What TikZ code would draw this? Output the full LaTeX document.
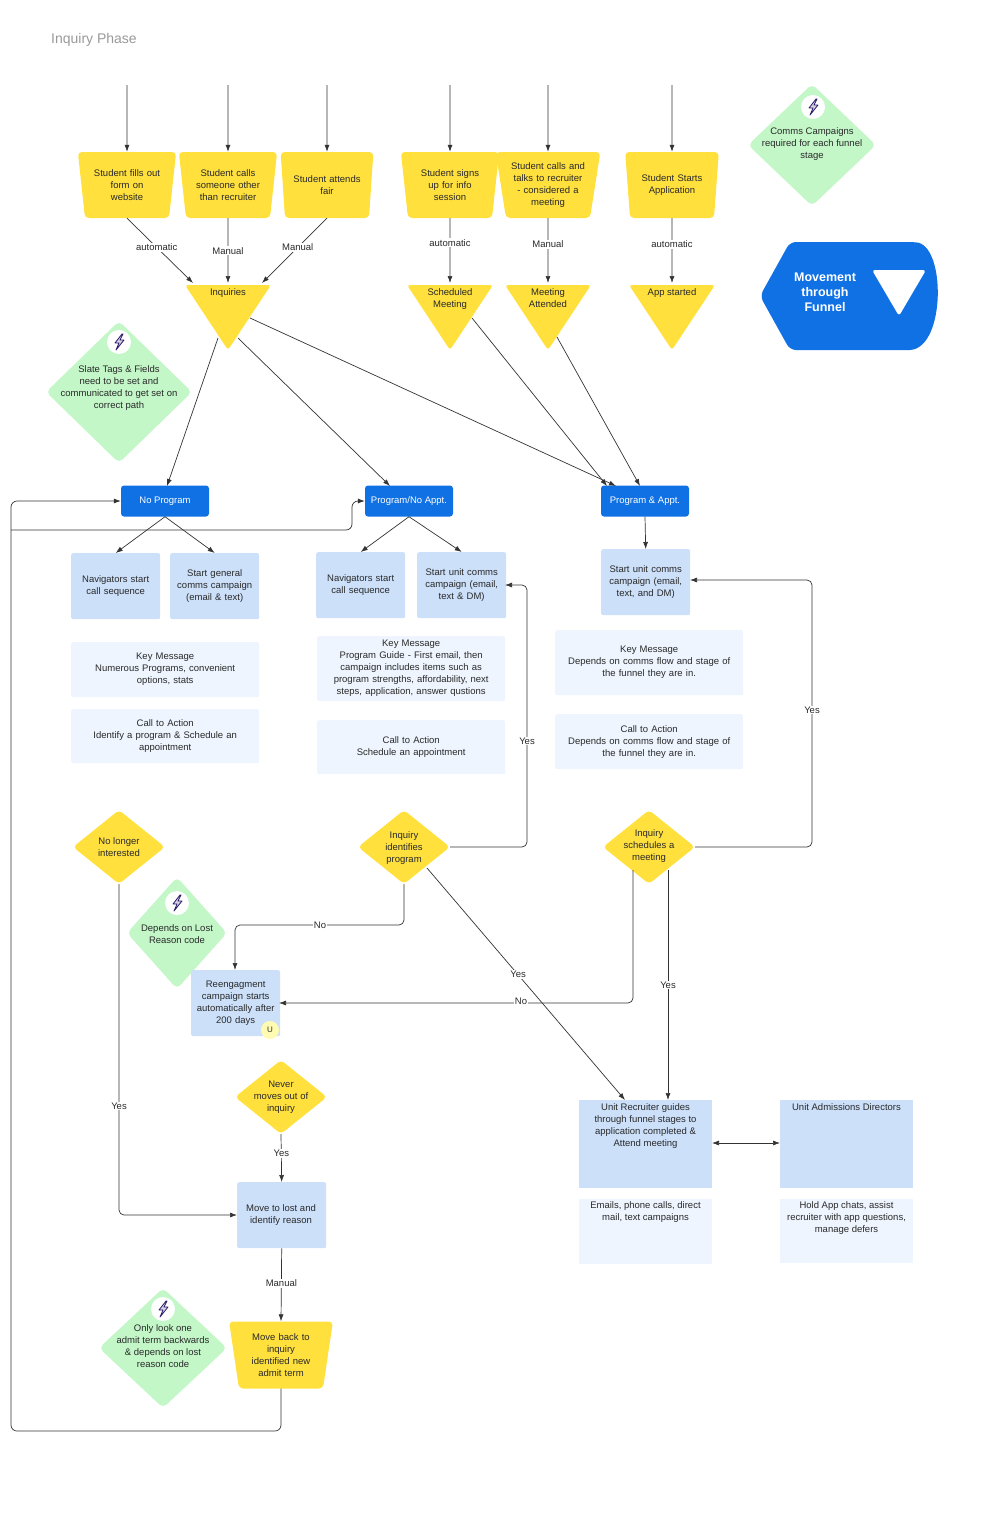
\documentclass[tikz,border=0pt]{standalone}
\usepackage{fontspec}
\setmainfont{Liberation Sans}
\usetikzlibrary{shapes.geometric,arrows.meta}
\definecolor{ylw}{HTML}{FFE03D}
\definecolor{lb}{HTML}{CCE0FA}
\definecolor{vlb}{HTML}{EEF5FE}
\definecolor{bl}{HTML}{1071E5}
\definecolor{grn}{HTML}{C3F7C8}
\definecolor{ln}{HTML}{333333}
\definecolor{txt}{HTML}{2A2A2A}
\definecolor{bolt}{HTML}{2B1B6B}
\begin{document}
\begin{tikzpicture}[x=1pt,y=-1pt,
  font=\fontsize{9.5}{12}\selectfont, text=txt,
  every node/.style={inner sep=1pt},
  arr/.style={draw=ln,line width=0.7pt,-{Latex[length=7pt,width=5pt]}},
  ln/.style={draw=ln,line width=0.7pt},
  trap/.style={trapezium,shape border rotate=180,trapezium angle=77,trapezium stretches body,
    minimum width=86,minimum height=66,fill=ylw,rounded corners=4pt,align=center,text width=84,inner sep=0pt},
  ybox/.style={rectangle,rounded corners=2pt,fill=lb,minimum width=89,minimum height=66,text width=86,align=center,anchor=north west},
  vbox/.style={rectangle,rounded corners=2pt,fill=vlb,minimum width=188,text width=186,align=center,anchor=north west},
  btn/.style={rectangle,rounded corners=3pt,fill=bl,text=white,minimum width=88,minimum height=31},
  lab/.style={fill=white,inner sep=1pt},
  ydia/.style={diamond,fill=ylw,minimum width=92,minimum height=74,rounded corners=4pt,inner sep=0pt},
  gdia/.style={diamond,fill=grn,rounded corners=5pt,inner sep=0pt},
  txtn/.style={align=center}
]
\useasboundingbox (0,0) rectangle (980,1515);
\newcommand{\ico}[2]{\fill[white] (#1,#2) circle (12);
  \draw[bolt,line width=0.8pt,line join=round,fill=bolt!20] (#1+3,#2-8) -- (#1-4,#2+1) -- (#1,#2+1) -- (#1-3,#2+8) -- (#1+5,#2-2) -- (#1+1,#2-2) -- (#1+4,#2-8) -- cycle;}

\node[anchor=west,text=gray!80,font=\fontsize{14}{16}\selectfont] (title) at (50,40) {Inquiry Phase};

% top trapezoids
\foreach \n/\x/\t in {t1/127/{Student fills out\\form on\\website},t2/228/{Student calls\\someone other\\than recruiter},t3/327/{Student attends\\fair},t4/450/{Student signs\\up for info\\session},t5/548/{Student calls and\\talks to recruiter\\- considered a\\meeting},t6/672/{Student Starts\\Application}}{
  \node[trap] (\n) at (\x,185) {\t};
  \coordinate (\n s) at (\x,85);
  \draw[arr] (\n s) -- (\n.north);
}

% triangles
\newcommand{\tri}[3]{\fill[ylw,rounded corners=3pt] (#1-43,285) -- (#1+43,285) -- (#1,350) -- cycle;
  \node[txtn,anchor=north] (#2) at (#1,287) {#3};}
\tri{228}{inq}{Inquiries}
\tri{450}{sm}{Scheduled\\Meeting}
\tri{548}{ma}{Meeting\\Attended}
\tri{672}{as}{App started}
\coordinate (inqL) at (193,283); \coordinate (inqC) at (228,283); \coordinate (inqR) at (262,283);
\coordinate (smT) at (450,283); \coordinate (maT) at (548,283); \coordinate (asT) at (672,283);

\draw[arr] (t1.south) -- node[lab,pos=0.45]{automatic} (inqL);
\draw[arr] (t2.south) -- node[lab,pos=0.5]{Manual} (inqC);
\draw[arr] (t3.south) -- node[lab,pos=0.45]{Manual} (inqR);
\draw[arr] (t4.south) -- node[lab,pos=0.38]{automatic} (smT);
\draw[arr] (t5.south) -- node[lab,pos=0.4]{Manual} (maT);
\draw[arr] (t6.south) -- node[lab,pos=0.4]{automatic} (asT);

% comms campaigns diamond
\node[gdia,minimum width=128,minimum height=122] (cc) at (812,145) {};
\ico{813}{107}
\node[txtn] (cct) at (812,144) {Comms Campaigns\\required for each funnel\\stage};

% movement shape
\fill[bl] (760,296) [rounded corners=6pt] -- (790,242) -- (910,242) [sharp corners] .. controls (946,244) and (946,348) .. (910,350) [rounded corners=6pt] -- (790,350) -- cycle;
\fill[white,rounded corners=3pt] (872,270) -- (926,270) -- (899,316) -- cycle;
\node[txtn,text=white,font=\fontsize{12.5}{15}\selectfont\bfseries] (mv) at (825,292) {Movement\\through\\Funnel};

% slate diamond
\node[gdia,minimum width=146,minimum height=142] (st) at (119,392) {};
\ico{119}{342}
\node[txtn] (stt) at (119,388) {Slate Tags \& Fields\\need to be set and\\communicated to get set on\\correct path};

% buttons
\node[btn] (np) at (165,501) {No Program};
\node[btn] (pn) at (409,501) {Program/No Appt.};
\node[btn] (pa) at (645,501) {Program \& Appt.};

\coordinate (i1) at (218,338); \coordinate (i2) at (238,338); \coordinate (i3) at (250,318);
\coordinate (s1) at (472,318); \coordinate (m1) at (557,337);
\draw[arr] (i1) -- (167,486);
\draw[arr] (i2) -- (390,486);
\draw[arr] (i3) -- (616,486);
\draw[arr] (s1) -- (607,486);
\draw[arr] (m1) -- (640,486);

% light blue boxes
\node[ybox] (b1) at (71,553) {Navigators start\\call sequence};
\node[ybox] (b2) at (170,553) {Start general\\comms campaign\\(email \& text)};
\node[ybox] (b3) at (316,552) {Navigators start\\call sequence};
\node[ybox] (b4) at (417,552) {Start unit comms\\campaign (email,\\text \& DM)};
\node[ybox] (b5) at (601,549) {Start unit comms\\campaign (email,\\text, and DM)};
\draw[arr] (np.south) -- (b1.north);
\draw[arr] (np.south) -- (b2.north);
\draw[arr] (pn.south) -- (b3.north);
\draw[arr] (pn.south) -- (b4.north);
\draw[arr] (pa.south) -- (b5.north);

% very light boxes
\node[vbox,minimum height=55] (k1) at (71,642) {Key Message\\Numerous Programs, convenient\\options, stats};
\node[vbox,minimum height=54] (c1) at (71,709) {Call to Action\\Identify a program \& Schedule an\\appointment};
\node[vbox,minimum height=65] (k2) at (317,636) {Key Message\\Program Guide - First email, then\\campaign includes items such as\\program strengths, affordability, next\\steps, application, answer qustions};
\node[vbox,minimum height=54] (c2) at (317,720) {Call to Action\\Schedule an appointment\\[12pt]};
\node[vbox,minimum height=65] (k3) at (555,630) {Key Message\\Depends on comms flow and stage of\\the funnel they are in.\\[14pt]};
\node[vbox,minimum height=55] (c3) at (555,714) {Call to Action\\Depends on comms flow and stage of\\the funnel they are in.\\[4pt]};

% decisions
\node[ydia] (nl) at (119,847) {};
\node[txtn] at (119,847) {No longer\\interested};
\node[ydia] (ip) at (404,847) {};
\node[txtn] at (404,848) {Inquiry\\identifies\\program};
\node[ydia] (is) at (649,847) {};
\node[txtn] at (649,846) {Inquiry\\schedules a\\meeting};

% depends diamond
\node[gdia,minimum width=100,minimum height=112] (dl) at (177,933) {};
\ico{177}{903}
\node[txtn] (dlt) at (177,934) {Depends on Lost\\Reason code};

% reengagement
\node[ybox,minimum height=66] (re) at (191,970) {Reengagment\\campaign starts\\automatically after\\200 days};
\fill[yellow!30] (270,1030) circle (9);
\node (u) at (270,1030) {\fontsize{8}{9}\selectfont U};

% unit recruiter
\node[rectangle,fill=lb,minimum width=133,minimum height=88,anchor=north west] (ur) at (579,1100) {};
\node[txtn,anchor=north] at (645.5,1102) {Unit Recruiter guides\\through funnel stages to\\application completed \&\\Attend meeting};
\node[rectangle,fill=vlb,minimum width=133,minimum height=65,anchor=north west] (ue) at (579,1199) {};
\node[txtn,anchor=north] at (645.5,1200) {Emails, phone calls, direct\\mail, text campaigns};
\node[rectangle,fill=lb,minimum width=133,minimum height=88,anchor=north west] (ud) at (780,1100) {};
\node[txtn,anchor=north] at (846.5,1102) {Unit Admissions Directors};
\node[rectangle,fill=vlb,minimum width=133,minimum height=64,anchor=north west] (uh) at (780,1199) {};
\node[txtn,anchor=north] at (846.5,1200) {Hold App chats, assist\\recruiter with app questions,\\manage defers};
\draw[ln,{Latex[length=7pt,width=5pt]}-{Latex[length=7pt,width=5pt]}] (712,1143) -- (780,1143);

% never moves
\node[ydia] (nm) at (281,1097) {};
\node[txtn] at (281,1097) {Never\\moves out of\\inquiry};
\node[ybox] (ml) at (237,1182) {};
\node[txtn] at (281,1215) {Move to lost and\\identify reason};
\node[trap,minimum height=67] (mb) at (281,1355) {Move back to\\inquiry\\identified new\\admit term};

% only look diamond
\node[gdia,minimum width=128,minimum height=120] (ol) at (163,1348) {};
\ico{163}{1309}
\node[txtn] (olt) at (163,1346) {Only look one\\admit term backwards\\\& depends on lost\\reason code};

% connectors
\draw[arr,rounded corners=5pt] (ip.east) -- (527,847) -- (527,585) -- (505,585);
\node[lab] at (527,741) {Yes};
\draw[arr,rounded corners=5pt] (ip.south) -- (404,925) -- (235,925) -- (re.north -| 235,0);
\node[lab] at (320,925) {No};
\draw[arr] (427,868) -- node[lab,pos=0.46]{Yes} (625,1100);
\draw[arr,rounded corners=5pt] (is.east) -- (812,847) -- (812,580) -- (690,580);
\node[lab] at (812,710) {Yes};
\draw[arr,rounded corners=5pt] (633,870) -- (633,1003) -- (279,1003);
\node[lab] at (521,1001) {No};
\draw[arr] (668,870) -- node[lab,pos=0.5]{Yes} (668,1100);
\draw[arr,rounded corners=5pt] (nl.south) -- (119,1215) -- (237,1215);
\node[lab] at (119,1106) {Yes};
\draw[arr] (nm.south) -- node[lab,pos=0.4]{Yes} (ml.north);
\draw[arr] (ml.south) -- node[lab,pos=0.48]{Manual} (mb.north);
\draw[arr,rounded corners=6pt] (mb.south) -- (281,1431) -- (11,1431) -- (11,501) -- (np.west);
\draw[arr,rounded corners=6pt] (11,530) -- (352,530) -- (352,501) -- (pn.west);
\end{tikzpicture}
\end{document}
